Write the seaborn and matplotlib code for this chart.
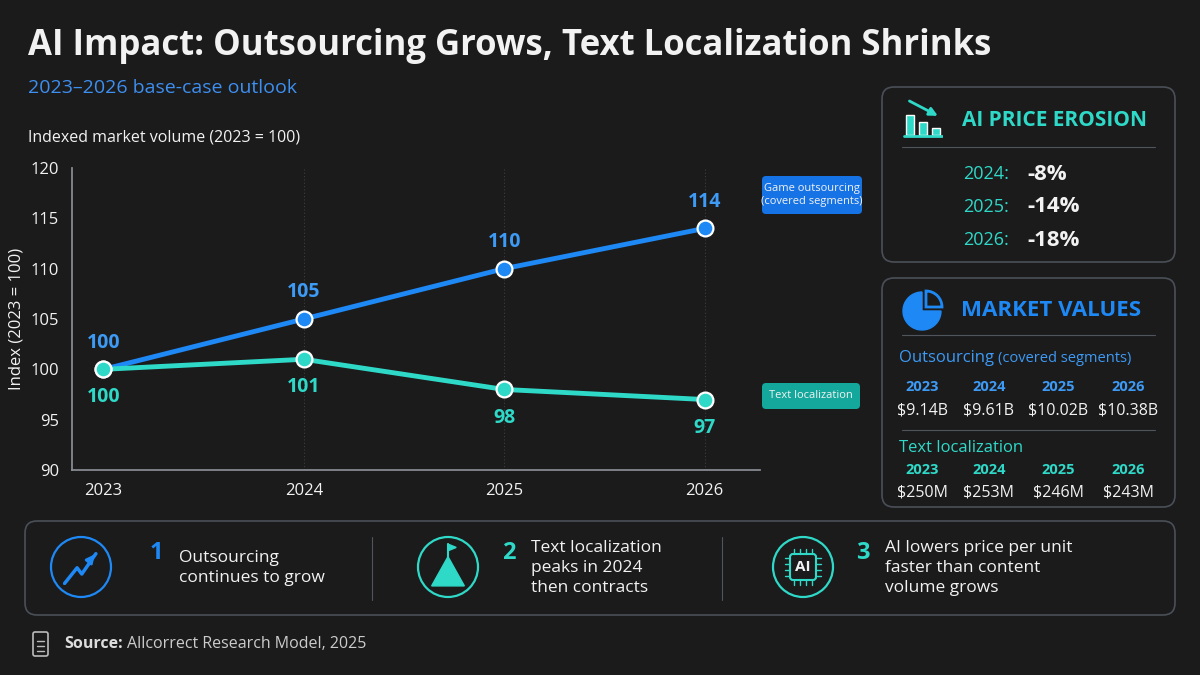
import numpy as np
import pandas as pd
import matplotlib
matplotlib.use("Agg")
import matplotlib.pyplot as plt
import seaborn as sns
from matplotlib.patches import FancyBboxPatch, Circle, Wedge
from matplotlib.transforms import IdentityTransform

# data
years = [2023, 2024, 2025, 2026]
outsourcing_idx = [100, 105, 110, 114]
textloc_idx = [100, 101, 98, 97]
price_years = ["2024:", "2025:", "2026:"]
price_erosion = ["-8%", "-14%", "-18%"]
outsourcing_usd = ["$9.14B", "$9.61B", "$10.02B", "$10.38B"]
textloc_usd = ["$250M", "$253M", "$246M", "$243M"]
takeaways = ["Outsourcing\ncontinues to grow",
             "Text localization\npeaks in 2024\nthen contracts",
             "AI lowers price per unit\nfaster than content\nvolume grows"]

BG = "#1b1b1c"
BLUE = "#1e88f5"
TEAL = "#2fd9c8"
GRID = "#3a3d42"
WHITE = "#f2f2f2"

sns.set_theme(style="dark")
plt.rcParams["font.family"] = ["Open Sans", "DejaVu Sans"]

fig = plt.figure(figsize=(12, 6.75), dpi=100, facecolor=BG)
PX = IdentityTransform()  # display pixels (dpi 100 -> 1200x675)


def fx(x):
    return x / 1200


def fy(y):
    return 1 - y / 675


def ftext(x, y, s, **kw):
    kw.setdefault("color", WHITE)
    kw.setdefault("va", "center")
    fig.text(fx(x), fy(y), s, **kw)


def box(x0, y0, x1, y1, ec="#4a4f57"):
    p = FancyBboxPatch((x0, 675 - y1), x1 - x0, y1 - y0,
                       boxstyle="round,pad=0,rounding_size=12",
                       transform=PX, fc="none", ec=ec, lw=1.2)
    fig.add_artist(p)


def hline(x0, x1, y):
    fig.add_artist(plt.Line2D([x0, x1], [675 - y, 675 - y], transform=PX,
                              color="#50555c", lw=0.8))


# titles
ftext(28, 46, "AI Impact: Outsourcing Grows, Text Localization Shrinks",
      fontsize=25, fontweight="bold")
ftext(28, 88, "2023\u20132026 base-case outlook", fontsize=14, color="#3d8ff0")
ftext(28, 138, "Indexed market volume (2023 = 100)", fontsize=11.5)

# chart
ax = fig.add_axes([fx(72), fy(470), fx(760 - 72), fy(168) - fy(470)])
ax.set_facecolor(BG)
df = pd.DataFrame({"year": years * 2,
                   "index": outsourcing_idx + textloc_idx,
                   "series": ["out"] * 4 + ["text"] * 4})
sns.lineplot(data=df, x="year", y="index", hue="series",
             palette={"out": BLUE, "text": TEAL}, lw=3.5, legend=False, ax=ax)
for vals, c in [(outsourcing_idx, BLUE), (textloc_idx, TEAL)]:
    ax.scatter(years, vals, s=130, color=c, edgecolor="white", lw=1.6, zorder=5)
for yr, v in zip(years, outsourcing_idx):
    ax.annotate(str(v), (yr, v), xytext=(0, 12), textcoords="offset points",
                ha="center", va="bottom", color="#3d9af5", fontsize=14, fontweight="bold")
for yr, v in zip(years, textloc_idx):
    ax.annotate(str(v), (yr, v), xytext=(0, -13), textcoords="offset points",
                ha="center", va="top", color=TEAL, fontsize=14, fontweight="bold")
ax.set_xlim(2022.843, 2026.276)
ax.set_ylim(90, 120)
ax.set_xticks(years)
ax.set_yticks(range(90, 121, 5))
ax.tick_params(colors=WHITE, labelsize=12)
ax.set_xlabel("")
ax.set_ylabel("Index (2023 = 100)", color=WHITE, fontsize=12)
ax.grid(False)
for yr in years[1:]:
    ax.axvline(yr, color=GRID, lw=0.8, ls=(0, (1, 2)), zorder=0)
for s in ["top", "right"]:
    ax.spines[s].set_visible(False)
for s in ["left", "bottom"]:
    ax.spines[s].set_color("#8a8f96")

# series labels
for (x0, y0, x1, y1), txt, c in [((762, 176, 862, 214), "Game outsourcing\n(covered segments)", "#1673e6"),
                                 ((762, 383, 860, 409), "Text localization", "#14a89c")]:
    p = FancyBboxPatch((x0, 675 - y1), x1 - x0, y1 - y0,
                       boxstyle="round,pad=0,rounding_size=4",
                       transform=PX, fc=c, ec="none")
    fig.add_artist(p)
    ftext((x0 + x1) / 2, (y0 + y1) / 2, txt, fontsize=8, ha="center")

# price erosion panel
box(882, 87, 1175, 262)
ax_i = fig.add_axes([fx(903), fy(138), fx(40), fy(98) - fy(138)])
ax_i.set_axis_off()
ax_i.bar([0, 1, 2], [0.55, 0.35, 0.2], color=TEAL, width=0.6)
ax_i.plot([-0.4, 2.4], [-0.05, -0.05], color=TEAL, lw=2)
ax_i.annotate("", xy=(2.3, 0.5), xytext=(-0.2, 1.0),
              arrowprops=dict(arrowstyle="-|>", color=TEAL, lw=2))
ax_i.set_xlim(-0.5, 2.5)
ax_i.set_ylim(-0.1, 1.05)
ftext(962, 120, "AI PRICE EROSION", fontsize=15, fontweight="bold", color=TEAL)
hline(902, 1155, 147)
for i, (yl, pv) in enumerate(zip(price_years, price_erosion)):
    y = 174 + i * 33
    ftext(963, y, yl, fontsize=13, color=TEAL)
    ftext(1027, y, pv, fontsize=16, fontweight="bold")

# market values panel
box(882, 278, 1175, 507)
fig.add_artist(Wedge((922, 675 - 311), 19, 90, 360, transform=PX, color=BLUE))
fig.add_artist(Wedge((926, 675 - 307), 16, 0, 90, transform=PX,
                     fc="none", ec=BLUE, lw=2))
ftext(961, 310, "MARKET VALUES", fontsize=16, fontweight="bold", color=BLUE)
hline(902, 1155, 335)
ftext(899, 358, "Outsourcing", fontsize=12, color="#3d9af5")
ftext(998, 358, "(covered segments)", fontsize=10.5, color="#3d9af5")
cols = [922, 989, 1058, 1128]
for cx, yr, v in zip(cols, years, outsourcing_usd):
    ftext(cx, 387, str(yr), fontsize=10.5, color="#3d9af5", ha="center", fontweight="bold")
    ftext(cx, 410, v, fontsize=11.5, ha="center")
hline(902, 1155, 430)
ftext(899, 448, "Text localization", fontsize=12, color=TEAL)
for cx, yr, v in zip(cols, years, textloc_usd):
    ftext(cx, 470, str(yr), fontsize=10.5, color=TEAL, ha="center", fontweight="bold")
    ftext(cx, 492, v, fontsize=11.5, ha="center")

# takeaways
box(25, 521, 1175, 615)
icon_x = [81, 448, 803]
num_x = [150, 502, 856]
text_x = [179, 531, 885]
num_c = [BLUE, TEAL, TEAL]
for i, (ix, nx, tx, txt, c) in enumerate(zip(icon_x, num_x, text_x, takeaways, num_c)):
    fig.add_artist(Circle((ix, 675 - 567), 30, transform=PX, fc="none", ec=c, lw=1.6))
    ftext(nx, 553, str(i + 1), fontsize=17, fontweight="bold", color=c)
    ftext(tx, 568, txt, fontsize=12.5, linespacing=1.3)
# icon glyphs
ax_a = fig.add_axes([fx(63), fy(585), fx(36), fy(549) - fy(585)])
ax_a.set_axis_off()
ax_a.plot([0, 0.4, 0.55, 1], [0, 0.5, 0.3, 0.95], color=BLUE, lw=2.5)
ax_a.annotate("", xy=(1.02, 1.0), xytext=(0.8, 0.72),
              arrowprops=dict(arrowstyle="-|>", color=BLUE, lw=2))
ax_a.set_xlim(-0.05, 1.1)
ax_a.set_ylim(-0.05, 1.1)
ax_m = fig.add_axes([fx(430), fy(588), fx(36), fy(542) - fy(588)])
ax_m.set_axis_off()
ax_m.fill([0, 0.5, 1], [0, 0.7, 0], color=TEAL)
ax_m.plot([0.5, 0.5], [0.7, 1], color=TEAL, lw=1.5)
ax_m.fill([0.5, 0.75, 0.5], [1, 0.92, 0.84], color=TEAL)
ax_m.set_xlim(-0.05, 1.05)
ax_m.set_ylim(-0.05, 1.05)
p = FancyBboxPatch((790, 675 - 580), 26, 26,
                   boxstyle="round,pad=0,rounding_size=3",
                   transform=PX, fc="none", ec=TEAL, lw=1.5)
fig.add_artist(p)
ftext(803, 567, "AI", fontsize=11, fontweight="bold", ha="center")
for i in range(4):
    xx = 794 + i * 6
    fig.add_artist(plt.Line2D([xx, xx], [675 - 549, 675 - 554], transform=PX, color=TEAL, lw=1))
    fig.add_artist(plt.Line2D([xx, xx], [675 - 580, 675 - 585], transform=PX, color=TEAL, lw=1))
    yy = 558 + i * 6
    fig.add_artist(plt.Line2D([785, 790], [675 - yy, 675 - yy], transform=PX, color=TEAL, lw=1))
    fig.add_artist(plt.Line2D([816, 821], [675 - yy, 675 - yy], transform=PX, color=TEAL, lw=1))
for xx in [372, 722]:
    fig.add_artist(plt.Line2D([xx, xx], [675 - 537, 675 - 600], transform=PX,
                              color="#50555c", lw=0.8))

# source
p = FancyBboxPatch((33, 675 - 656), 15, 24,
                   boxstyle="round,pad=0,rounding_size=2",
                   transform=PX, fc="none", ec="#bbbbbb", lw=1.2)
fig.add_artist(p)
for yy in [641, 646, 651]:
    fig.add_artist(plt.Line2D([37, 44], [675 - yy, 675 - yy], transform=PX, color="#bbbbbb", lw=1))
ftext(64, 644, "Source:", fontsize=11.5, fontweight="bold", color="#dddddd")
ftext(127, 644, "Allcorrect Research Model, 2025", fontsize=11.5, color="#cccccc")

fig.savefig("out.png", dpi=100, facecolor=BG)
